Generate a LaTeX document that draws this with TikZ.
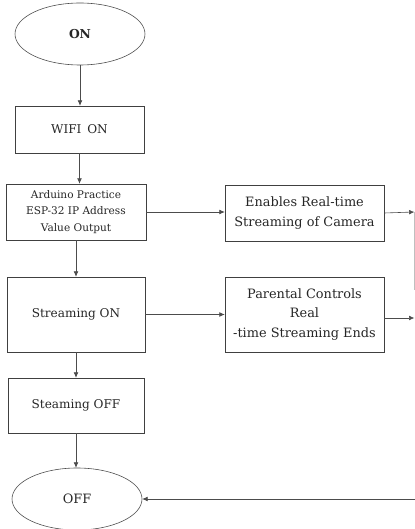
\documentclass[tikz,border=0pt]{standalone}
\usepackage{fontspec}
\setmainfont{DejaVu Serif}
\usetikzlibrary{shapes.geometric,arrows.meta}

\tikzset{
  flowbox/.style={draw=black!75,rectangle,inner sep=0pt,align=center,text=black!85},
  termnode/.style={draw=black!70,ellipse,inner sep=0pt,minimum width=3.9cm,minimum height=1.86cm,text=black!85},
  flowarrow/.style={draw=black!70,line width=.5pt,-{Latex[length=4.5pt,width=4pt]}}
}

\begin{document}
\begin{tikzpicture}[x=1cm,y=1cm,line width=.5pt,font=\fontsize{10.3pt}{14pt}\selectfont]
\useasboundingbox (0,0) rectangle (12.45,15.87);
\node[termnode,font=\bfseries\fontsize{10.5pt}{12pt}\selectfont] (on) at (2.40,14.85) {ON};
\node[flowbox,minimum width=3.87cm,minimum height=1.41cm] (wifi) at (2.385,11.985) {WIFI\, ON};
\node[flowbox,minimum width=4.20cm,minimum height=1.68cm,font=\fontsize{9pt}{14.3pt}\selectfont] (ard) at (2.28,9.51) {Arduino Practice\\ESP-32 IP Address\\Value Output};
\node[flowbox,minimum width=4.77cm,minimum height=1.68cm,font=\fontsize{11pt}{17.5pt}\selectfont] (cam) at (9.135,9.48) {Enables Real-time\\Streaming of Camera};
\node[flowbox,minimum width=4.14cm,minimum height=2.25cm] (ston) at (2.28,6.435) {Streaming ON};
\node[flowbox,minimum width=4.77cm,minimum height=2.25cm,font=\fontsize{11pt}{17pt}\selectfont] (par) at (9.135,6.435) {Parental Controls\\Real\\-time Streaming Ends};
\node[flowbox,minimum width=4.08cm,minimum height=1.65cm] (stoff) at (2.28,3.705) {Steaming OFF};
\node[termnode,font=\fontsize{11pt}{12pt}\selectfont] (off) at (2.31,0.90) {OFF};
\coordinate (camout) at (12.43,9.51);
\coordinate (parout) at (12.43,6.33);
\coordinate (offin) at (12.45,0.90);
\draw[flowarrow] (on.south) -- (on.south |- wifi.north);
\draw[flowarrow] (wifi.south) -- (wifi.south |- ard.north);
\draw[flowarrow] (ard.south) -- (ard.south |- ston.north);
\draw[flowarrow] (ston.south) -- (ston.south |- stoff.north);
\draw[flowarrow] (stoff.south) -- (stoff.south |- off.north);
\draw[flowarrow] (ard.east) -- (ard.east -| cam.west);
\draw[flowarrow] (ston.east) -- (ston.east -| par.west);
\draw[flowarrow] (cam.east) -- (camout);
\draw[flowarrow] (parout -| par.east) -- (parout);
\draw[black!25,line width=.4pt] (camout) -- (12.43,7.17);
\draw[flowarrow] (offin) -- (off.east);
\end{tikzpicture}
\end{document}
